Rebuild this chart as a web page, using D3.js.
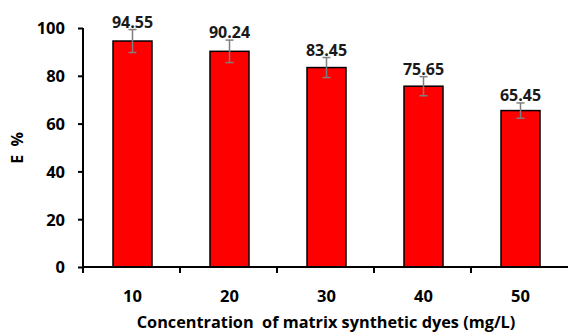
<!DOCTYPE html>
<html>
<head>
<meta charset="utf-8">
<script src="https://cdn.jsdelivr.net/npm/d3@7"></script>
<style>
  html, body { margin: 0; padding: 0; background: #fff; }
  svg { display: block; font-family: "Open Sans", Lato, sans-serif; font-weight: bold; }
  .pre { white-space: pre; }
</style>
</head>
<body>
<svg id="chart" width="568" height="333"></svg>
<script>
// Removal efficiency by dye concentration
const concentrations = ["10", "20", "30", "40", "50"];
const efficiency = [94.55, 90.24, 83.45, 75.65, 65.45];
const errors = [4.8, 4.7, 4.2, 4.0, 3.2];
const yTicks = [0, 20, 40, 60, 80, 100];

const svg = d3.select("#chart");
const W = 568, axisX = 83;

const x = d3.scaleBand().domain(concentrations).range([axisX + 1, axisX + 1 + 97 * 5]);
const y = d3.scaleLinear().domain([0, 100]).range([267, 28]);
const cxOf = d => x(d) + x.bandwidth() / 2;

// Bars
svg.append("g").selectAll("rect")
  .data(concentrations)
  .join("rect")
  .attr("x", d => cxOf(d) - 19.5)
  .attr("width", 39)
  .attr("y", (d, i) => y(efficiency[i]))
  .attr("height", (d, i) => y(0) - y(efficiency[i]))
  .attr("fill", "#ff0000")
  .attr("stroke", "#000")
  .attr("stroke-width", 1.5);

// Error bars
const eg = svg.append("g").attr("stroke", "#7f7f7f").attr("stroke-width", 1.5);
concentrations.forEach((d, i) => {
  const cx = cxOf(d);
  const lo = y(efficiency[i] - errors[i]), hi = y(efficiency[i] + errors[i]);
  eg.append("line").attr("x1", cx).attr("x2", cx).attr("y1", lo).attr("y2", hi);
  eg.append("line").attr("x1", cx - 4).attr("x2", cx + 4).attr("y1", lo).attr("y2", lo);
  eg.append("line").attr("x1", cx - 4).attr("x2", cx + 4).attr("y1", hi).attr("y2", hi);
});

// Value labels
svg.append("g").selectAll("text")
  .data(concentrations)
  .join("text")
  .attr("x", d => cxOf(d))
  .attr("y", (d, i) => y(efficiency[i] + errors[i]) - 2)
  .attr("text-anchor", "middle")
  .attr("font-size", 16)
  .attr("fill", "#1a1a1a")
  .text((d, i) => efficiency[i].toFixed(2));

// Y axis
const yAxis = svg.append("g")
  .attr("transform", `translate(${axisX},0)`)
  .call(d3.axisLeft(y).tickValues(yTicks).tickSize(5).tickPadding(13));
yAxis.select(".domain").attr("stroke", "#000").attr("stroke-width", 2).attr("d", `M0,${y(100)}V${y(0)}`);
yAxis.selectAll(".tick line").attr("stroke", "#000").attr("stroke-width", 2);
yAxis.selectAll(".tick text")
  .attr("font-size", 16.5)
  .attr("font-family", "'Open Sans', sans-serif")
  .attr("font-weight", "bold")
  .attr("fill", "#000")
  .attr("dy", "0.36em");

// X axis: line across the bottom with ticks at category boundaries
const xg = svg.append("g");
xg.append("line")
  .attr("x1", axisX).attr("x2", W)
  .attr("y1", y(0)).attr("y2", y(0))
  .attr("stroke", "#000").attr("stroke-width", 2);
xg.selectAll("line.tk")
  .data(concentrations)
  .join("line")
  .attr("class", "tk")
  .attr("x1", d => x(d) - 1).attr("x2", d => x(d) - 1)
  .attr("y1", y(0)).attr("y2", y(0) + 6)
  .attr("stroke", "#000").attr("stroke-width", 2);
xg.selectAll("text")
  .data(concentrations)
  .join("text")
  .attr("x", d => cxOf(d))
  .attr("y", 302)
  .attr("text-anchor", "middle")
  .attr("font-size", 16.5)
  .attr("fill", "#000")
  .text(d => d);

// Axis titles
svg.append("text")
  .attr("class", "pre")
  .attr("x", 326).attr("y", 328)
  .attr("text-anchor", "middle")
  .attr("font-size", 16.3)
  .attr("fill", "#000")
  .text("Concentration  of matrix synthetic dyes (mg/L)");

svg.append("text")
  .attr("class", "pre")
  .attr("transform", "translate(23,148) rotate(-90)")
  .attr("text-anchor", "middle")
  .attr("font-size", 16)
  .attr("fill", "#000")
  .text("E  %");
</script>
</body>
</html>
